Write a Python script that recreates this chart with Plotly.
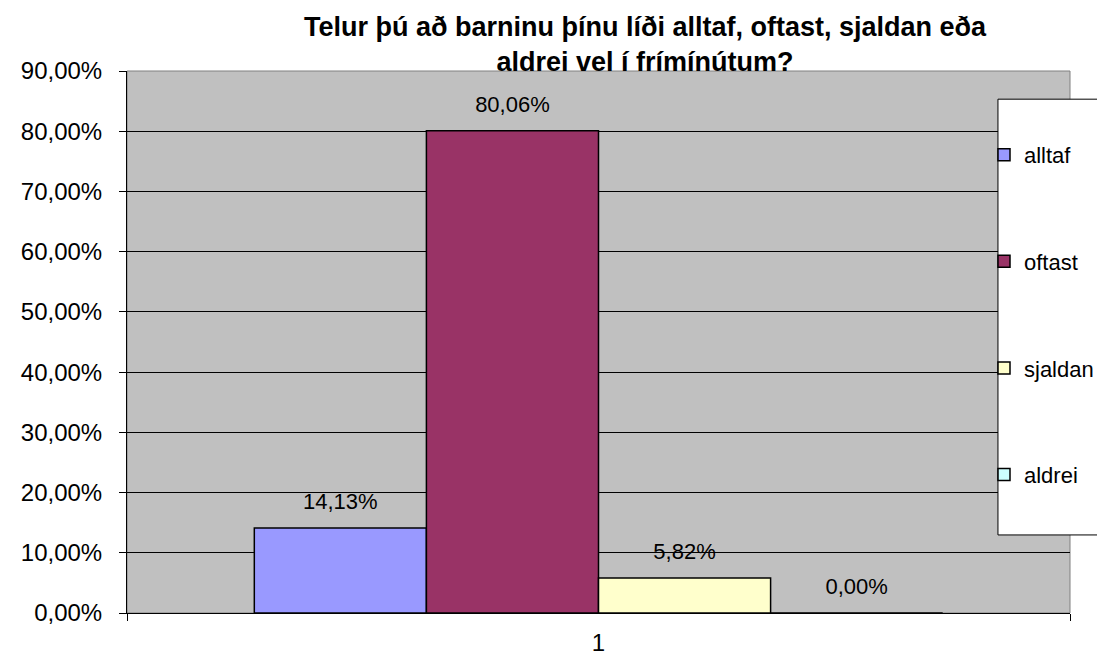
import plotly.graph_objects as go


categories = ["1"]
series_names = ["alltaf", "oftast", "sjaldan", "aldrei"]
series_values = [[0.1413], [0.8006], [0.0582], [0.0]]
series_colors = ["#9999FF", "#993366", "#FFFFCC", "#CCFFFF"]

title_text = "Telur þú að barninu þínu líði alltaf, oftast, sjaldan eða<br>aldrei vel í frímínútum?"

FONT = "Liberation Sans, Arial, sans-serif"

fig = go.Figure()
for name, values, color in zip(series_names, series_values, series_colors):
    fig.add_trace(
        go.Bar(
            x=categories,
            y=values,
            name=name,
            legendgroup=name,
            offsetgroup=name,
            marker=dict(color=color, line=dict(color="black", width=1.5)),
        )
    )

# value labels, lifted a bit above the bar tops
for name, values in zip(series_names, series_values):
    fig.add_trace(
        go.Scatter(
            x=categories,
            y=values,
            mode="markers+text",
            offsetgroup=name,
            marker=dict(size=20, opacity=0),
            texttemplate="%{y:.2%}",
            textposition="top center",
            textfont=dict(size=22, color="black", family=FONT),
            showlegend=False,
            hoverinfo="skip",
            cliponaxis=False,
        )
    )

# plot frame (grey top/right edge)
fig.add_shape(
    type="rect", xref="paper", yref="paper", x0=0, x1=1, y0=0, y1=1,
    line=dict(color="#808080", width=1), layer="below",
)
# legend box
fig.add_shape(
    type="rect", xref="paper", yref="paper", x0=0.9236, x1=1.05, y0=0.144, y1=0.948,
    fillcolor="white", line=dict(color="black", width=1), layer="above",
)

fig.update_layout(
    width=1097,
    height=648,
    separators=",.",
    barmode="group",
    bargap=0.27,
    bargroupgap=0,
    scattermode="group",
    scattergap=0.27,
    title=dict(
        text="<b>" + title_text + "</b>",
        x=0.5807, xanchor="center",
        y=0.957, yanchor="middle",
        font=dict(size=27, color="black", family=FONT),
    ),
    xaxis=dict(
        showline=True, linecolor="black", linewidth=1,
        ticks="outside", tickson="boundaries", ticklen=7, tickcolor="black",
        tickfont=dict(size=24, color="black", family=FONT),
        ticklabelstandoff=8,
        showgrid=False,
        automargin=False,
    ),
    yaxis=dict(
        range=[0, 0.9], dtick=0.1, tickformat=".2%",
        showline=True, linecolor="black", linewidth=1,
        ticks="outside", ticklen=7, tickcolor="black",
        tickfont=dict(size=24, color="black", family=FONT),
        ticklabelstandoff=12,
        showgrid=True, gridcolor="black", gridwidth=1,
        zeroline=False,
        automargin=False,
    ),
    legend=dict(
        xref="container", yref="container",
        x=0.8897, xanchor="left",
        y=0.8056, yanchor="top",
        bgcolor="rgba(0,0,0,0)",
        borderwidth=0,
        font=dict(size=22, color="black", family=FONT),
        tracegroupgap=75,
        itemwidth=30,
        maxheight=600,
    ),
    showlegend=True,
    margin=dict(l=119, r=35, t=63, b=43, autoexpand=False),
    paper_bgcolor="white",
    plot_bgcolor="#C0C0C0",
    font=dict(family=FONT, color="black"),
)

fig.write_html("out.html")
